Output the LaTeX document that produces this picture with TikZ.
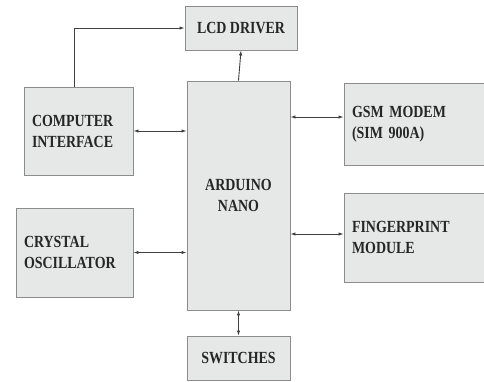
\documentclass[tikz,border=0pt]{standalone}
\usepackage{fontspec}
\setmainfont{Liberation Serif}[FakeStretch=0.82]
\usepackage{xcolor}
\usepackage{tikz}
\usetikzlibrary{arrows.meta,positioning,calc}

\definecolor{boxfill}{HTML}{E6E8E8}
\definecolor{boxline}{HTML}{8C8C8C}
\definecolor{boxtext}{HTML}{262626}

\begin{document}
\begin{tikzpicture}[x=1pt, y=-1pt,
block/.style={draw=boxline, fill=boxfill, line width=0.9pt, text=boxtext, inner sep=8pt,
  font=\fontsize{17}{21}\selectfont\bfseries},
midblock/.style={block, align=center, minimum width=103pt},
sideblock/.style={block, align=left},
arrow/.style={-{Latex[length=5pt,width=3.5pt]}, line width=0.9pt, draw=black!75},
dblarrow/.style={{Latex[length=5pt,width=3.5pt]}-{Latex[length=5pt,width=3.5pt]}, line width=0.9pt, draw=black!75}
]
\useasboundingbox (0,0) rectangle (484,381);
\node[midblock, minimum width=112pt, minimum height=44pt] (lcd) at (241,28) {LCD DRIVER};
\node[midblock, minimum height=229pt] (nano) at (238.5,195.5) {ARDUINO\\NANO};
\node[sideblock, text width=93pt, minimum height=88pt] (comp) at (78.5,131) {COMPUTER\\INTERFACE};
\node[sideblock, text width=101pt, minimum height=89pt] (osc) at (74.5,252.5) {CRYSTAL\\OSCILLATOR};
\node[sideblock, text width=130pt, minimum height=82pt] (gsm) at (417,124) {GSM MODEM\\(SIM 900A)};
\node[sideblock, text width=130pt, minimum height=89pt] (fp) at (417,237.5) {FINGERPRINT\\MODULE};
\node[midblock, minimum height=44pt] (sw) at (238.5,358) {SWITCHES};
\draw[arrow] ([xshift=-4.5pt]comp.north) |- (lcd.west);
\draw[arrow] (nano.north) -- (lcd.south);
\draw[dblarrow] (comp.east) -- (comp.east -| nano.west);
\draw[dblarrow] (osc.east) -- (osc.east -| nano.west);
\draw[dblarrow] ([yshift=7pt]gsm.west -| nano.east) -- ([yshift=7pt]gsm.west);
\draw[dblarrow] ([yshift=3.5pt]fp.west -| nano.east) -- ([yshift=3.5pt]fp.west);
\draw[dblarrow] (nano.south) -- (sw.north);
\end{tikzpicture}
\end{document}
